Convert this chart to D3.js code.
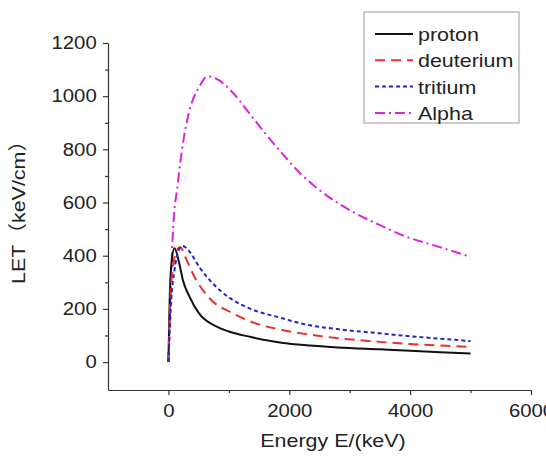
<!DOCTYPE html>
<html>
<head>
<meta charset="utf-8">
<script src="https://cdn.jsdelivr.net/npm/d3@7"></script>
<style>
  body { margin: 0; background: #fff; }
  text { font-family: "Liberation Sans", Arial, "Noto Sans CJK SC", sans-serif; fill: #222; }
  .domain, .tick line { stroke: #333; stroke-width: 1.2; }
</style>
</head>
<body>
<div id="chart"></div>
<script>
// 1: DATA
const seriesNames = ["proton", "deuterium", "tritium", "Alpha"];

const protonE   = [0, 20, 50, 100, 180, 240, 350, 500, 800, 1000, 1350, 1900, 2200, 2800, 3500, 4000, 4500, 5000];
const protonLET = [0, 230, 370, 428, 370, 308, 245, 185, 133, 115, 95, 72, 65, 55, 48, 43, 37, 32];

const deutE   = [0, 30, 80, 150, 200, 270, 430, 680, 1070, 1450, 1900, 2200, 2800, 3500, 4000, 4500, 5000];
const deutLET = [0, 230, 365, 425, 432, 400, 321, 240, 183, 145, 120, 108, 90, 76, 68, 62, 57];

const tritE   = [0, 40, 100, 170, 230, 350, 510, 790, 1070, 1340, 1900, 2200, 2800, 3500, 4000, 4500, 5000];
const tritLET = [0, 210, 345, 420, 437, 415, 358, 283, 233, 202, 164, 145, 124, 108, 97, 88, 79];

const alphaE   = [0, 30, 70, 155, 240, 350, 510, 650, 790, 1070, 1340, 1620, 1900, 2170, 2390, 2610, 3050, 3500, 3940, 4380, 5000];
const alphaLET = [0, 220, 471, 672, 822, 947, 1035, 1075, 1066, 1012, 935, 855, 780, 712, 667, 628, 565, 515, 471, 440, 396];

const xMajor = [0, 2000, 4000, 6000];
const xMinor = [1000, 3000, 5000];
const yMajor = [0, 200, 400, 600, 800, 1000, 1200];
const yMinor = [100, 300, 500, 700, 900, 1100];

const colors = ["#111111", "#e8302c", "#2424c8", "#e020e0"];
const dashes = [null, "10,6", "4,3", "10,4,2,4"];

// 2: SVG
const width = 546, height = 461;
const margin = { top: 43, right: 15, bottom: 71, left: 108 };

const svg = d3.select("#chart")
    .append("svg")
    .attr("width", width)
    .attr("height", height);

// 3: SCALES
const x = d3.scaleLinear()
    .domain([-1000, 6000])
    .range([margin.left, width - margin.right]);

const y = d3.scaleLinear()
    .domain([-105, 1200])
    .range([height - margin.bottom, margin.top]);

// 4: LINES
const series = [
    protonE.map((e, i) => ({ e, v: protonLET[i] })),
    deutE.map((e, i) => ({ e, v: deutLET[i] })),
    tritE.map((e, i) => ({ e, v: tritLET[i] })),
    alphaE.map((e, i) => ({ e, v: alphaLET[i] }))
];

const line = d3.line()
    .x(d => x(d.e))
    .y(d => y(d.v))
    .curve(d3.curveMonotoneX);

// draw alpha first so the particle peaks sit on top like the picture
[3, 0, 1, 2].forEach(i => {
    svg.append("path")
        .datum(series[i])
        .attr("d", line)
        .attr("fill", "none")
        .attr("stroke", colors[i])
        .attr("stroke-width", 2)
        .attr("stroke-dasharray", dashes[i]);
});

// 5: AXES
const stretch = "scale(1.13,1)";

const xAxis = svg.append("g")
    .attr("transform", `translate(0,${height - margin.bottom})`)
    .call(d3.axisBottom(x).tickValues(xMajor).tickFormat(d3.format("d"))
        .tickSize(5).tickSizeOuter(0).tickPadding(9));
xAxis.selectAll("text").style("font-size", "18px").attr("transform", stretch);

svg.append("g")
    .attr("transform", `translate(0,${height - margin.bottom})`)
    .call(d3.axisBottom(x).tickValues(xMinor).tickSize(3).tickFormat(""))
    .select(".domain").remove();

const yAxis = svg.append("g")
    .attr("transform", `translate(${margin.left},0)`)
    .call(d3.axisLeft(y).tickValues(yMajor).tickFormat(d3.format("d"))
        .tickSize(5).tickSizeOuter(0).tickPadding(5));
yAxis.selectAll("text").style("font-size", "18px").attr("transform", stretch);

svg.append("g")
    .attr("transform", `translate(${margin.left},0)`)
    .call(d3.axisLeft(y).tickValues(yMinor).tickSize(3).tickFormat(""))
    .select(".domain").remove();

// 6: LABELS
svg.append("text")
    .attr("transform", `translate(333,447) ${stretch}`)
    .attr("text-anchor", "middle")
    .style("font-size", "19px")
    .text("Energy E/(keV)");

svg.append("text")
    .attr("transform", `translate(25,207) rotate(-90) ${stretch}`)
    .attr("text-anchor", "middle")
    .style("font-size", "19px")
    .text("LET（keV/cm）");

// 7: LEGEND
const legend = svg.append("g");

legend.append("rect")
    .attr("x", 364)
    .attr("y", 12)
    .attr("width", 155)
    .attr("height", 111)
    .attr("fill", "#fff")
    .attr("stroke", "#999")
    .attr("stroke-width", 1);

seriesNames.forEach((name, i) => {
    const ly = 34 + i * 26.3;
    legend.append("line")
        .attr("x1", 375).attr("x2", 413)
        .attr("y1", ly).attr("y2", ly)
        .attr("stroke", colors[i])
        .attr("stroke-width", 2)
        .attr("stroke-dasharray", dashes[i]);
    legend.append("text")
        .attr("transform", `translate(418,${ly + 7}) ${stretch}`)
        .style("font-size", "19px")
        .text(name);
});
</script>
</body>
</html>
